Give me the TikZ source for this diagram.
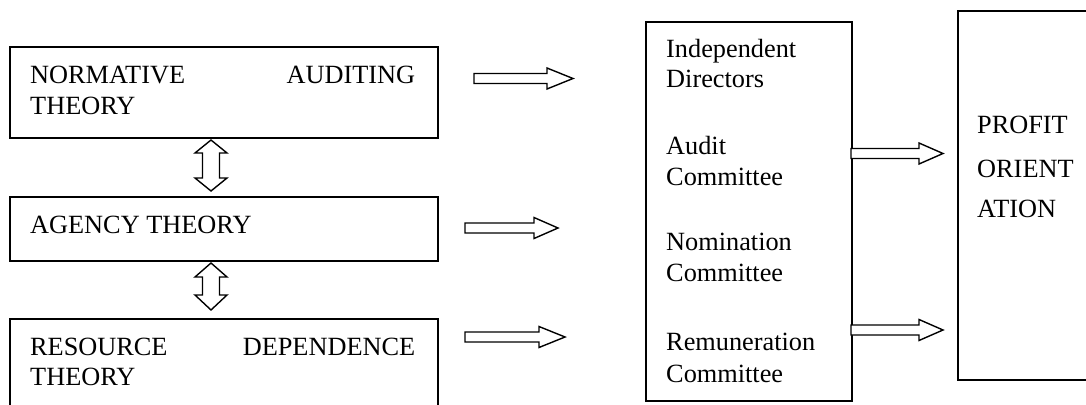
\documentclass[tikz,border=0pt]{standalone}
\usepackage{fontspec}
\setmainfont{Liberation Serif}
\begin{document}
\begin{tikzpicture}[x=1pt,y=-1pt,
  box/.style={draw, line width=1.6pt, inner sep=0pt, anchor=north west},
  txt/.style={inner sep=0pt, anchor=base west, font=\fontsize{26.3}{31}\selectfont},
  arr/.style={draw, line width=1.4pt, line join=miter, fill=white}]
\useasboundingbox (0,0) rectangle (1086,404);
\clip (0,0) rectangle (1086,404);
% boxes
\node[box, minimum width=428pt, minimum height=91pt] (normative) at (9,46) {};
\node[box, minimum width=428pt, minimum height=64pt] (agency) at (9,196) {};
\node[box, minimum width=428pt, minimum height=120pt] (resource) at (9,318) {};
\node[box, minimum width=206pt, minimum height=379pt] (mech) at (645,21) {};
\node[box, minimum width=170pt, minimum height=369pt] (profit) at (957,10) {};
% texts
\node[txt] (t1a) at (30,83) {\makebox[385pt][s]{NORMATIVE\hfill AUDITING}};
\node[txt] (t1b) at (30,114) {THEORY};
\node[txt] (t2) at (30,233) {AGENCY THEORY};
\node[txt] (t3a) at (30,355) {\makebox[385pt][s]{RESOURCE\hfill DEPENDENCE}};
\node[txt] (t3b) at (30,385) {THEORY};
\node[txt] (m1a) at (666,57) {Independent};
\node[txt] (m1b) at (666,88) {Directors};
\node[txt] (m2a) at (666,154) {Audit};
\node[txt] (m2b) at (666,185) {Committee};
\node[txt] (m3a) at (666,250) {Nomination};
\node[txt] (m3b) at (666,281) {Committee};
\node[txt] (m4a) at (666,350) {Remuneration};
\node[txt] (m4b) at (666,382) {Committee};
\node[txt] (p1) at (977,133) {PROFIT};
\node[txt] (p2) at (977,177) {ORIENT};
\node[txt] (p3) at (977,217) {ATION};
% horizontal block arrows: start x, tip x, head start x, centre y
\newcommand\harr[4]{%
  \path[arr] (#1,#4-5) -- (#3,#4-5) -- (#3,#4-10.5) -- (#2,#4) -- (#3,#4+10.5) -- (#3,#4+5) -- (#1,#4+5) -- cycle;}
\harr{474}{573}{547}{78.5}
\harr{465}{558}{534}{228}
\harr{465}{565}{539}{337}
\harr{851}{943}{919}{153.5}
\harr{851}{943}{919}{330}
% vertical double block arrows: centre x, top tip, top head base, bottom head base, bottom tip
\newcommand\varr[5]{%
  \path[arr] (#1,#2) -- (#1+16,#3) -- (#1+8.5,#3) -- (#1+8.5,#4) -- (#1+16,#4) -- (#1,#5)
    -- (#1-16,#4) -- (#1-8.5,#4) -- (#1-8.5,#3) -- (#1-16,#3) -- cycle;}
\varr{211}{140}{153}{178}{191}
\varr{211}{263}{277}{295}{310}
\end{tikzpicture}
\end{document}
